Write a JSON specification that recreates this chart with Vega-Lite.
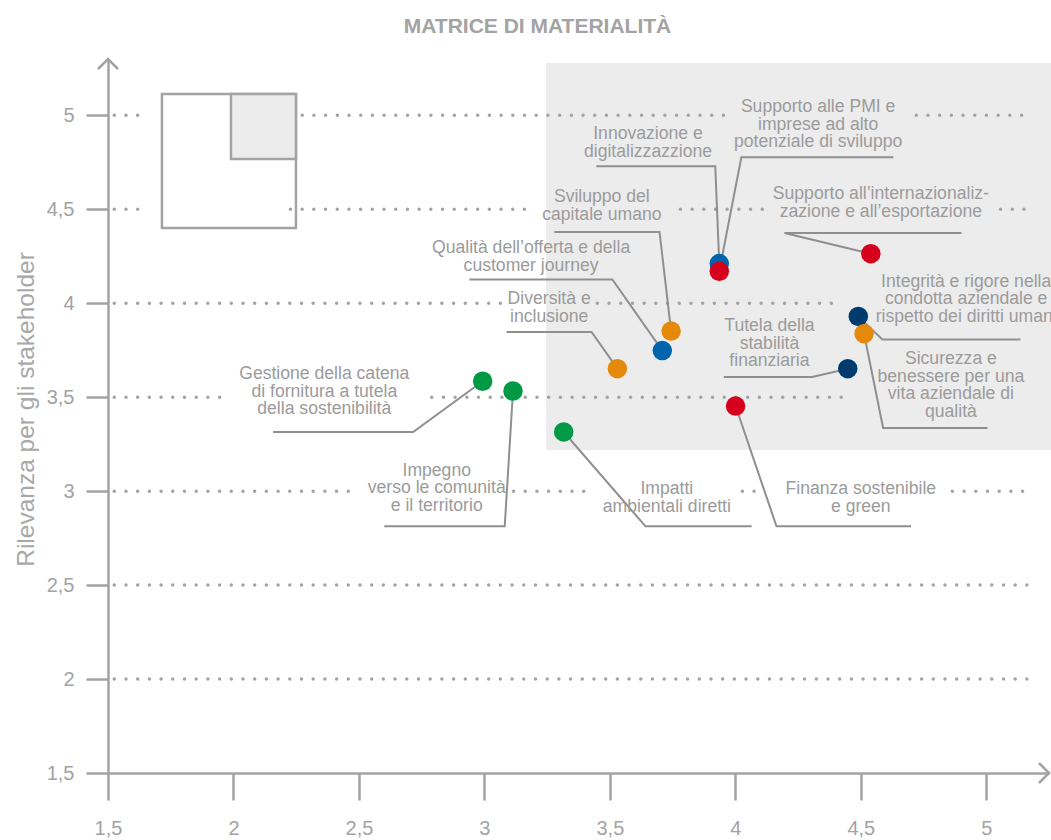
{
  "$schema": "https://vega.github.io/schema/vega-lite/v6.json",
  "width": 941,
  "height": 714,
  "autosize": {"type": "none"},
  "padding": {"left": 108, "top": 59, "right": 2, "bottom": 67},
  "background": "white",
  "config": {
    "view": {"stroke": null},
    "font": "Liberation Sans",
    "axis": {
      "labelFont": "Liberation Sans",
      "labelFontSize": 20,
      "labelColor": "#a3a3a3",
      "domainColor": "#a3a3a3",
      "domainWidth": 2.5,
      "tickColor": "#a3a3a3",
      "tickWidth": 2.5,
      "grid": false,
      "labelFlush": false,
      "labelOverlap": false
    }
  },
  "title": {
    "text": "MATRICE DI MATERIALITÀ",
    "anchor": "middle",
    "frame": "group",
    "dx": -41,
    "baseline": "alphabetic",
    "offset": 0,
    "fontSize": 21,
    "fontWeight": "bold",
    "color": "#a3a3a3",
    "font": "Liberation Sans"
  },
  "datasets": {
    "bg": [{"x": 3.246, "x2": 5.26, "y": 3.219, "y2": 5.279}],
    "insetOuter": [{"x": 1.715, "x2": 2.249, "y": 4.4, "y2": 5.114}],
    "insetInner": [{"x": 1.99, "x2": 2.249, "y": 4.768, "y2": 5.114}],
    "grid": [
      {"y": 5, "x": 1.525, "x2": 1.661},
      {"y": 5, "x": 2.274, "x2": 3.973},
      {"y": 5, "x": 4.721, "x2": 5.164},
      {"y": 4.5, "x": 1.525, "x2": 1.661},
      {"y": 4.5, "x": 2.227, "x2": 3.171},
      {"y": 4.5, "x": 3.781, "x2": 4.112},
      {"y": 4.5, "x": 5.057, "x2": 5.164},
      {"y": 4, "x": 1.525, "x2": 3.064},
      {"y": 4, "x": 3.45, "x2": 4.429},
      {"y": 3.5, "x": 1.525, "x2": 1.946},
      {"y": 3.5, "x": 2.79, "x2": 4.437},
      {"y": 3, "x": 1.525, "x2": 2.484},
      {"y": 3, "x": 3.116, "x2": 3.423},
      {"y": 3, "x": 4.028, "x2": 4.112},
      {"y": 3, "x": 4.865, "x2": 5.167},
      {"y": 2.5, "x": 1.525, "x2": 5.167},
      {"y": 2, "x": 1.525, "x2": 5.167}
    ],
    "leaders": [
      {"id": "Innovazione", "o": 1, "x": 3.446, "y": 4.729},
      {"id": "Innovazione", "o": 2, "x": 3.92, "y": 4.729},
      {"id": "Innovazione", "o": 3, "x": 3.936, "y": 4.211},
      {"id": "PMI", "o": 1, "x": 4.63, "y": 4.777},
      {"id": "PMI", "o": 2, "x": 4.024, "y": 4.777},
      {"id": "PMI", "o": 3, "x": 3.936, "y": 4.17},
      {"id": "Sviluppo", "o": 1, "x": 3.279, "y": 4.379},
      {"id": "Sviluppo", "o": 2, "x": 3.698, "y": 4.379},
      {"id": "Sviluppo", "o": 3, "x": 3.744, "y": 3.852},
      {"id": "Qualita", "o": 1, "x": 2.94, "y": 4.127},
      {"id": "Qualita", "o": 2, "x": 3.51, "y": 4.127},
      {"id": "Qualita", "o": 3, "x": 3.709, "y": 3.748},
      {"id": "Diversita", "o": 1, "x": 3.088, "y": 3.847},
      {"id": "Diversita", "o": 2, "x": 3.427, "y": 3.847},
      {"id": "Diversita", "o": 3, "x": 3.53, "y": 3.652},
      {"id": "Internaz", "o": 1, "x": 4.901, "y": 4.374},
      {"id": "Internaz", "o": 2, "x": 4.196, "y": 4.374},
      {"id": "Internaz", "o": 3, "x": 4.54, "y": 4.264},
      {"id": "Integrita", "o": 1, "x": 5.136, "y": 3.807},
      {"id": "Integrita", "o": 2, "x": 4.586, "y": 3.807},
      {"id": "Integrita", "o": 3, "x": 4.49, "y": 3.93},
      {"id": "Sicurezza", "o": 1, "x": 5.005, "y": 3.336},
      {"id": "Sicurezza", "o": 2, "x": 4.589, "y": 3.336},
      {"id": "Sicurezza", "o": 3, "x": 4.513, "y": 3.838},
      {"id": "Tutela", "o": 1, "x": 3.954, "y": 3.608},
      {"id": "Tutela", "o": 2, "x": 4.306, "y": 3.608},
      {"id": "Tutela", "o": 3, "x": 4.448, "y": 3.652},
      {"id": "Finanza", "o": 1, "x": 4.7, "y": 2.813},
      {"id": "Finanza", "o": 2, "x": 4.164, "y": 2.813},
      {"id": "Finanza", "o": 3, "x": 4.001, "y": 3.453},
      {"id": "Gestione", "o": 1, "x": 2.158, "y": 3.315},
      {"id": "Gestione", "o": 2, "x": 2.716, "y": 3.315},
      {"id": "Gestione", "o": 3, "x": 2.993, "y": 3.585},
      {"id": "Impegno", "o": 1, "x": 2.601, "y": 2.813},
      {"id": "Impegno", "o": 2, "x": 3.081, "y": 2.813},
      {"id": "Impegno", "o": 3, "x": 3.114, "y": 3.533},
      {"id": "Impatti", "o": 1, "x": 4.065, "y": 2.813},
      {"id": "Impatti", "o": 2, "x": 3.642, "y": 2.813},
      {"id": "Impatti", "o": 3, "x": 3.316, "y": 3.315}
    ],
    "points": [
      {"tema": "Innovazione e digitalizzazzione", "area": "Innovazione", "x": 3.936, "y": 4.211},
      {"tema": "Supporto alle PMI e imprese ad alto potenziale di sviluppo", "area": "Economia", "x": 3.936, "y": 4.17},
      {"tema": "Sviluppo del capitale umano", "area": "Persone", "x": 3.744, "y": 3.852},
      {"tema": "Qualità dell’offerta e della customer journey", "area": "Innovazione", "x": 3.709, "y": 3.748},
      {"tema": "Diversità e inclusione", "area": "Persone", "x": 3.53, "y": 3.652},
      {"tema": "Supporto all’internazionalizzazione e all’esportazione", "area": "Economia", "x": 4.54, "y": 4.264},
      {"tema": "Integrità e rigore nella condotta aziendale e rispetto dei diritti umani", "area": "Governance", "x": 4.49, "y": 3.93},
      {"tema": "Sicurezza e benessere per una vita aziendale di qualità", "area": "Persone", "x": 4.513, "y": 3.838},
      {"tema": "Tutela della stabilità finanziaria", "area": "Governance", "x": 4.448, "y": 3.652},
      {"tema": "Finanza sostenibile e green", "area": "Economia", "x": 4.001, "y": 3.453},
      {"tema": "Gestione della catena di fornitura a tutela della sostenibilità", "area": "Ambiente", "x": 2.993, "y": 3.585},
      {"tema": "Impegno verso le comunità e il territorio", "area": "Ambiente", "x": 3.114, "y": 3.533},
      {"tema": "Impatti ambientali diretti", "area": "Ambiente", "x": 3.316, "y": 3.315}
    ],
    "labels": [
      {"lines": ["Innovazione e", "digitalizzazzione"], "x": 3.652, "y": 4.901},
      {"lines": ["Supporto alle PMI e", "imprese ad alto", "potenziale di sviluppo"], "x": 4.33, "y": 5.043},
      {"lines": ["Sviluppo del", "capitale umano"], "x": 3.468, "y": 4.564},
      {"lines": ["Qualità dell’offerta e della", "customer journey"], "x": 3.186, "y": 4.292},
      {"lines": ["Diversità e", "inclusione"], "x": 3.258, "y": 4.023},
      {"lines": ["Supporto all’internazionaliz-", "zazione e all’esportazione"], "x": 4.58, "y": 4.58},
      {"lines": ["Integrità e rigore nella", "condotta aziendale e", "rispetto dei diritti umani"], "x": 4.92, "y": 4.115},
      {"lines": ["Tutela della", "stabilità", "finanziaria"], "x": 4.136, "y": 3.879},
      {"lines": ["Sicurezza e", "benessere per una", "vita aziendale di", "qualità"], "x": 4.859, "y": 3.702},
      {"lines": ["Finanza sostenibile", "e green"], "x": 4.5, "y": 3.011},
      {"lines": ["Gestione della catena", "di fornitura a tutela", "della sostenibilità"], "x": 2.362, "y": 3.623},
      {"lines": ["Impegno", "verso le comunità", "e il territorio"], "x": 2.81, "y": 3.109},
      {"lines": ["Impatti", "ambientali diretti"], "x": 3.727, "y": 3.009}
    ],
    "arrowUp": [{"x": 1.5, "y": 5.3}],
    "arrowRight": [{"x": 5.25, "y": 1.5}]
  },
  "layer": [
    {
      "data": {"name": "bg"},
      "mark": {"type": "rect", "color": "#ececec"},
      "encoding": {
        "x": {
          "field": "x", "type": "quantitative",
          "scale": {"domain": [1.5, 5.25], "nice": false, "zero": false},
          "axis": {
            "values": [1.5, 2, 2.5, 3, 3.5, 4, 4.5, 5],
            "title": null,
            "labelExpr": "replace(toString(datum.value), '.', ',')",
            "tickSize": 27,
            "labelPadding": 18
          }
        },
        "x2": {"field": "x2"},
        "y": {
          "field": "y", "type": "quantitative",
          "scale": {"domain": [1.5, 5.3], "nice": false, "zero": false},
          "axis": {
            "values": [1.5, 2, 2.5, 3, 3.5, 4, 4.5, 5],
            "title": "Rilevanza per gli stakeholder",
            "titleX": -75,
            "titleY": 350,
            "titleAngle": -90,
            "titleAlign": "center",
            "titleBaseline": "alphabetic",
            "titleFont": "Liberation Sans",
            "titleFontSize": 24.5,
            "titleFontWeight": "normal",
            "titleColor": "#a8a8a8",
            "labelExpr": "replace(toString(datum.value), '.', ',')",
            "tickSize": 22,
            "labelPadding": 12
          }
        },
        "y2": {"field": "y2"}
      }
    },
    {
      "data": {"name": "insetOuter"},
      "mark": {"type": "rect", "fill": "white", "stroke": "#a3a3a3", "strokeWidth": 2.5},
      "encoding": {
        "x": {"field": "x", "type": "quantitative"},
        "x2": {"field": "x2"},
        "y": {"field": "y", "type": "quantitative"},
        "y2": {"field": "y2"}
      }
    },
    {
      "data": {"name": "insetInner"},
      "mark": {"type": "rect", "fill": "#ececec", "stroke": "#a3a3a3", "strokeWidth": 2.5},
      "encoding": {
        "x": {"field": "x", "type": "quantitative"},
        "x2": {"field": "x2"},
        "y": {"field": "y", "type": "quantitative"},
        "y2": {"field": "y2"}
      }
    },
    {
      "data": {"name": "grid"},
      "mark": {"type": "rule", "color": "#a3a3a3", "strokeWidth": 3.5, "strokeCap": "round", "strokeDash": [0, 11.7]},
      "encoding": {
        "x": {"field": "x", "type": "quantitative"},
        "x2": {"field": "x2"},
        "y": {"field": "y", "type": "quantitative"}
      }
    },
    {
      "data": {"name": "leaders"},
      "mark": {"type": "line", "color": "#8f8f8f", "strokeWidth": 2},
      "encoding": {
        "x": {"field": "x", "type": "quantitative"},
        "y": {"field": "y", "type": "quantitative"},
        "detail": {"field": "id"},
        "order": {"field": "o", "type": "quantitative"}
      }
    },
    {
      "data": {"name": "points"},
      "mark": {"type": "point", "filled": true, "opacity": 1, "size": 380, "shape": "circle"},
      "encoding": {
        "x": {"field": "x", "type": "quantitative"},
        "y": {"field": "y", "type": "quantitative"},
        "color": {
          "field": "area", "type": "nominal", "legend": null,
          "scale": {
            "domain": ["Ambiente", "Persone", "Innovazione", "Governance", "Economia"],
            "range": ["#009a44", "#e5890a", "#0064ad", "#003b6f", "#d6001c"]
          }
        },
        "tooltip": {"field": "tema"}
      }
    },
    {
      "data": {"name": "labels"},
      "mark": {"type": "text", "align": "center", "baseline": "middle", "fontSize": 17.6, "lineHeight": 17.6, "color": "#9b9b9b", "font": "Liberation Sans"},
      "encoding": {
        "x": {"field": "x", "type": "quantitative"},
        "y": {"field": "y", "type": "quantitative"},
        "text": {"field": "lines"}
      }
    },
    {
      "data": {"name": "arrowUp"},
      "mark": {"type": "point", "shape": "M -1 1 L 0 0 L 1 1", "size": 400, "filled": false, "stroke": "#a3a3a3", "strokeWidth": 2.5, "opacity": 1},
      "encoding": {
        "x": {"field": "x", "type": "quantitative"},
        "y": {"field": "y", "type": "quantitative"}
      }
    },
    {
      "data": {"name": "arrowRight"},
      "mark": {"type": "point", "shape": "M -1 -1 L 0 0 L -1 1", "size": 400, "filled": false, "stroke": "#a3a3a3", "strokeWidth": 2.5, "opacity": 1},
      "encoding": {
        "x": {"field": "x", "type": "quantitative"},
        "y": {"field": "y", "type": "quantitative"}
      }
    }
  ]
}
